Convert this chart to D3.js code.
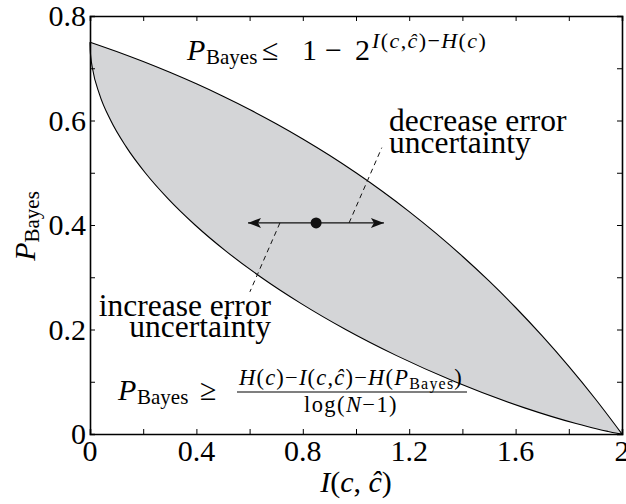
<!DOCTYPE html>
<html>
<head>
<meta charset="utf-8">
<script src="https://cdn.jsdelivr.net/npm/d3@7"></script>
<style>
  body { margin: 0; background: #fff; }
  svg text, svg tspan { font-family: "Liberation Serif", "Times New Roman", Times, serif; fill: #000; }
</style>
</head>
<body>
<div class="chart"></div>
<script>
// upper bound P <= 1 - 2^(I-H)
const upperI = [0, 0.1, 0.2, 0.3, 0.4, 0.5, 0.6, 0.7, 0.8, 0.9, 1.0, 1.1, 1.2, 1.3, 1.4, 1.5, 1.6, 1.7, 1.8, 1.9, 2.0]
const upperP = [0.75, 0.7321, 0.7128, 0.6922, 0.6701, 0.6464, 0.6211, 0.5939, 0.5647, 0.5335, 0.5, 0.4641, 0.4257, 0.3844, 0.3402, 0.2929, 0.2421, 0.1877, 0.1294, 0.067, 0]

// lower (Fano) bound
const lowerI = [0, 0.0007, 0.0033, 0.0092, 0.0357, 0.078, 0.1355, 0.2075, 0.294, 0.395, 0.511, 0.643, 0.7925, 0.961, 1.1525, 1.3725, 1.634, 1.827, 1.903, 1.9467, 1.976, 2.0]
const lowerP = [0.75, 0.735, 0.72, 0.70, 0.65, 0.60, 0.55, 0.50, 0.45, 0.40, 0.35, 0.30, 0.25, 0.20, 0.15, 0.10, 0.05, 0.02, 0.01, 0.005, 0.002, 0]

const xTicks = [0, 0.2, 0.4, 0.6, 0.8, 1.0, 1.2, 1.4, 1.6, 1.8, 2.0]
const xLabels = [0, 0.4, 0.8, 1.2, 1.6, 2]
const yTicks = [0, 0.1, 0.2, 0.3, 0.4, 0.5, 0.6, 0.7, 0.8]
const yLabels = [0, 0.2, 0.4, 0.6, 0.8]

// operating point and the arrow through it
const pointI = [0.85]
const pointP = [0.404]
const arrowI = [0.594, 1.105]
const dashLowI = [0.714, 0.601]
const dashLowP = [0.404, 0.272]
const dashHighI = [0.974, 1.097]
const dashHighP = [0.404, 0.548]

const width = 626
const height = 504
const margin = {top: 16, right: 4, bottom: 70, left: 90}

const x = d3.scaleLinear().domain([0, 2]).range([margin.left, width - margin.right])
const y = d3.scaleLinear().domain([0, 0.8]).range([height - margin.bottom, margin.top])

const svg = d3.select(".chart").append("svg")
  .attr("width", width)
  .attr("height", height)

const upper = upperI.map((d, i) => [d, upperP[i]])
const lower = lowerI.map((d, i) => [d, lowerP[i]])

// gray under the upper curve, then white under the lower one
const area = d3.area()
  .x(d => x(d[0]))
  .y0(y(0))
  .y1(d => y(d[1]))
  .curve(d3.curveMonotoneX)

svg.append("path").attr("d", area(upper)).attr("fill", "#d4d5d7")
svg.append("path").attr("d", area(lower)).attr("fill", "#fff")

const line = d3.line()
  .x(d => x(d[0]))
  .y(d => y(d[1]))
  .curve(d3.curveMonotoneX)

svg.append("path").attr("d", line(upper))
  .attr("fill", "none").attr("stroke", "#000").attr("stroke-width", 1.1)
svg.append("path").attr("d", line(lower))
  .attr("fill", "none").attr("stroke", "#000").attr("stroke-width", 1.1)

// axes, ticks inward on all four sides
const tickLen = 5
svg.append("g")
  .attr("transform", "translate(0," + y(0) + ")")
  .call(d3.axisBottom(x).tickValues(xTicks).tickSize(-tickLen).tickFormat(""))
svg.append("g")
  .attr("transform", "translate(0," + y(0.8) + ")")
  .call(d3.axisTop(x).tickValues(xTicks).tickSize(-tickLen).tickFormat(""))
svg.append("g")
  .attr("transform", "translate(" + x(0) + ",0)")
  .call(d3.axisLeft(y).tickValues(yTicks).tickSize(-tickLen).tickFormat(""))
svg.append("g")
  .attr("transform", "translate(" + x(2) + ",0)")
  .call(d3.axisRight(y).tickValues(yTicks).tickSize(-tickLen).tickFormat(""))

svg.selectAll(".domain").attr("stroke", "#000").attr("stroke-width", 1.6)
svg.selectAll(".tick line").attr("stroke", "#000").attr("stroke-width", 1)

svg.selectAll(".xlab").data(xLabels).enter().append("text")
  .attr("x", d => x(d))
  .attr("y", y(0) + 27)
  .attr("text-anchor", "middle")
  .style("font-size", "30px")
  .text(d => d)

svg.selectAll(".ylab").data(yLabels).enter().append("text")
  .attr("x", x(0) - 4)
  .attr("y", d => y(d) + 10)
  .attr("text-anchor", "end")
  .style("font-size", "30px")
  .text(d => d)

// axis titles
const xt = svg.append("text")
  .attr("x", (x(0) + x(2)) / 2)
  .attr("y", 492)
  .attr("text-anchor", "middle")
  .style("font-size", "30px")
xt.append("tspan").style("font-style", "italic").text("I")
xt.append("tspan").text("(")
xt.append("tspan").style("font-style", "italic").text("c")
xt.append("tspan").text(", ")
xt.append("tspan").style("font-style", "italic").text("ĉ")
xt.append("tspan").text(")")

const yt = svg.append("text")
  .attr("transform", "translate(35," + (y(0.4) + 1) + ") rotate(-90)")
  .attr("text-anchor", "middle")
  .style("font-size", "30px")
yt.append("tspan").style("font-style", "italic").text("P")
yt.append("tspan").attr("dy", 4).style("font-size", "21px").text("Bayes")

// arrow, point and dashed leaders
const defs = svg.append("defs")
defs.append("marker")
  .attr("id", "head")
  .attr("viewBox", "-14 -7 16 14")
  .attr("refX", 0).attr("refY", 0)
  .attr("markerWidth", 16).attr("markerHeight", 14)
  .attr("markerUnits", "userSpaceOnUse")
  .attr("orient", "auto-start-reverse")
  .append("path")
  .attr("d", "M0,0 L-13,-5 L-10,0 L-13,5 Z")
  .attr("fill", "#111")

svg.append("line")
  .attr("x1", x(arrowI[0])).attr("x2", x(arrowI[1]))
  .attr("y1", y(pointP[0])).attr("y2", y(pointP[0]))
  .attr("stroke", "#111").attr("stroke-width", 1.4)
  .attr("marker-start", "url(#head)")
  .attr("marker-end", "url(#head)")

svg.selectAll(".pt").data(pointI).enter().append("circle")
  .attr("cx", d => x(d))
  .attr("cy", (d, i) => y(pointP[i]))
  .attr("r", 5.5)
  .attr("fill", "#111")

const dash = d3.line().x(d => x(d[0])).y(d => y(d[1]))
svg.append("path")
  .attr("d", dash(dashLowI.map((d, i) => [d, dashLowP[i]])))
  .attr("stroke", "#111").attr("stroke-width", 1).attr("stroke-dasharray", "5,4")
svg.append("path")
  .attr("d", dash(dashHighI.map((d, i) => [d, dashHighP[i]])))
  .attr("stroke", "#111").attr("stroke-width", 1).attr("stroke-dasharray", "5,4")

// annotations
const noteSize = "31.5px"
svg.append("text").attr("x", 389).attr("y", 131).style("font-size", noteSize).text("decrease error")
svg.append("text").attr("x", 389).attr("y", 153).style("font-size", noteSize).text("uncertainty")
svg.append("text").attr("x", 271).attr("y", 316).attr("text-anchor", "end").style("font-size", noteSize).text("increase error")
svg.append("text").attr("x", 271).attr("y", 337).attr("text-anchor", "end").style("font-size", noteSize).text("uncertainty")

// upper bound formula, pieces placed like the typeset original
const upperLabel = svg.append("text").attr("y", 60).style("font-size", "30px")
upperLabel.append("tspan").attr("x", 187).style("font-style", "italic").text("P")
upperLabel.append("tspan").attr("x", 206).attr("dy", 4).style("font-size", "21px").text("Bayes")
upperLabel.append("tspan").attr("x", 262).attr("dy", -4).text("≤")
upperLabel.append("tspan").attr("x", 302).text("1")
upperLabel.append("tspan").attr("x", 325).text("−")
upperLabel.append("tspan").attr("x", 355).text("2")
const sup = [["I", true], ["(", false], ["c", true], [",", false], ["ĉ", true], [")−", false], ["H", true], ["(", false], ["c", true], [")", false]]
sup.forEach((s, i) => {
  const t = upperLabel.append("tspan")
    .style("font-size", "22px")
    .style("letter-spacing", "1.4px")
    .style("font-style", s[1] ? "italic" : "normal")
    .text(s[0])
  if (i === 0) t.attr("x", 372).attr("dy", -12)
})

// lower bound formula
const lowerLabel = svg.append("text").attr("y", 400).style("font-size", "30px")
lowerLabel.append("tspan").attr("x", 118).style("font-style", "italic").text("P")
lowerLabel.append("tspan").attr("x", 137).attr("dy", 4).style("font-size", "21px").text("Bayes")
lowerLabel.append("tspan").attr("x", 200).attr("dy", -4).text("≥")

const num = svg.append("text").attr("x", 351).attr("y", 385).attr("text-anchor", "middle")
  .style("font-size", "22.5px").style("letter-spacing", "1.2px")
const numParts = [["H", true], ["(", false], ["c", true], [")−", false], ["I", true], ["(", false], ["c", true], [",", false], ["ĉ", true], [")−", false], ["H", true], ["(", false], ["P", true]]
numParts.forEach(s => {
  num.append("tspan").style("font-style", s[1] ? "italic" : "normal").text(s[0])
})
num.append("tspan").attr("dy", 4).style("font-size", "16px").text("Bayes")
num.append("tspan").attr("dy", -4).text(")")

svg.append("line")
  .attr("x1", 237).attr("x2", 467).attr("y1", 392).attr("y2", 392)
  .attr("stroke", "#000").attr("stroke-width", 1.2)

const den = svg.append("text").attr("x", 351).attr("y", 412).attr("text-anchor", "middle")
  .style("font-size", "22.5px").style("letter-spacing", "1.4px")
den.append("tspan").text("log(")
den.append("tspan").style("font-style", "italic").text("N")
den.append("tspan").text("−1)")
</script>
</body>
</html>
